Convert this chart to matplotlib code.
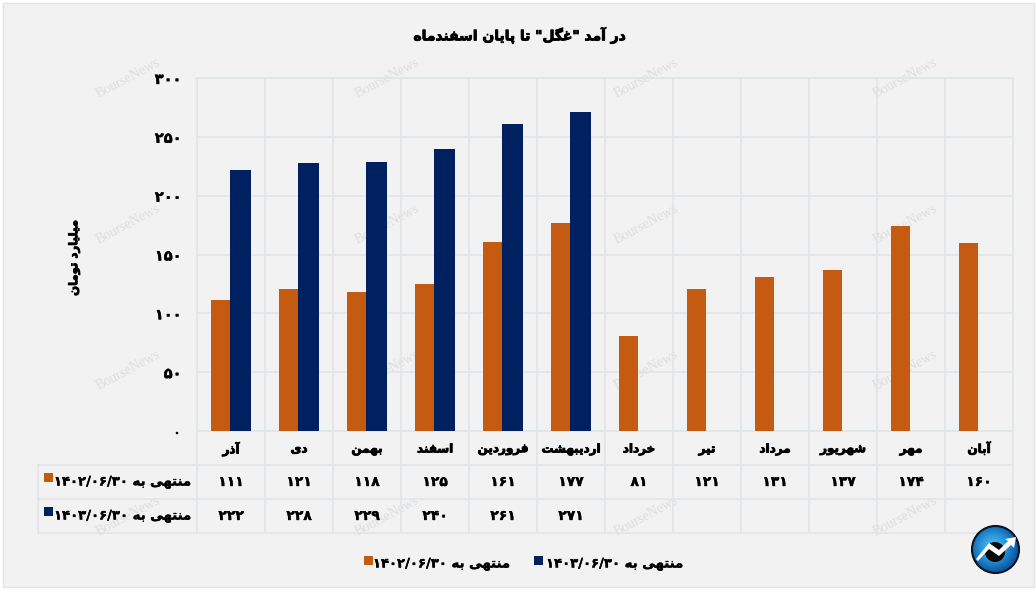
import matplotlib
matplotlib.use('Agg')
import matplotlib.pyplot as plt
import matplotlib.patheffects as pe
import numpy as np
from matplotlib.colors import LinearSegmentedColormap
from matplotlib.patches import Circle, Polygon, Rectangle

months = ['آذر', 'دی', 'بهمن', 'اسفند', 'فروردین', 'اردیبهشت',
          'خرداد', 'تیر', 'مرداد', 'شهریور', 'مهر', 'آبان']
revenue_1402 = [111, 121, 118, 125, 161, 177, 81, 121, 131, 137, 174, 160]
revenue_1403 = [222, 228, 229, 240, 261, 271]
series_names = ['منتهی به ۱۴۰۲/۰۶/۳۰', 'منتهی به ۱۴۰۳/۰۶/۳۰']
y_ticks = [0, 50, 100, 150, 200, 250, 300]
title = 'در آمد "غگل" تا پایان اسفندماه'
y_label = 'میلیارد تومان'

ORANGE = '#c55a11'
NAVY = '#002060'
BG = '#f2f2f2'
GRID = '#e0e5e8'
WATERMARK = '#dedede'

# matplotlib does no arabic shaping, so pick the presentation forms by hand
# letter: isolated, final, initial, medial
FORMS = {
    'ا': (0xFE8D, 0xFE8E), 'آ': (0xFE81, 0xFE82), 'د': (0xFEA9, 0xFEAA),
    'ذ': (0xFEAB, 0xFEAC), 'ر': (0xFEAD, 0xFEAE), 'و': (0xFEED, 0xFEEE),
    'ب': (0xFE8F, 0xFE90, 0xFE91, 0xFE92), 'پ': (0xFB56, 0xFB57, 0xFB58, 0xFB59),
    'ت': (0xFE95, 0xFE96, 0xFE97, 0xFE98), 'خ': (0xFEA5, 0xFEA6, 0xFEA7, 0xFEA8),
    'س': (0xFEB1, 0xFEB2, 0xFEB3, 0xFEB4), 'ش': (0xFEB5, 0xFEB6, 0xFEB7, 0xFEB8),
    'غ': (0xFECD, 0xFECE, 0xFECF, 0xFED0), 'ف': (0xFED1, 0xFED2, 0xFED3, 0xFED4),
    'گ': (0xFB92, 0xFB93, 0xFB94, 0xFB95), 'ل': (0xFEDD, 0xFEDE, 0xFEDF, 0xFEE0),
    'م': (0xFEE1, 0xFEE2, 0xFEE3, 0xFEE4), 'ن': (0xFEE5, 0xFEE6, 0xFEE7, 0xFEE8),
    'ه': (0xFEE9, 0xFEEA, 0xFEEB, 0xFEEC), 'ی': (0xFBFC, 0xFBFD, 0xFBFE, 0xFBFF),
}


def shape_word(word):
    out = []
    for i, ch in enumerate(word):
        if ch not in FORMS:
            out.append(ch)
            continue
        prev = word[i - 1] if i > 0 else ''
        nxt = word[i + 1] if i < len(word) - 1 else ''
        forms = FORMS[ch]
        join_prev = prev in FORMS and len(FORMS[prev]) == 4
        join_next = len(forms) == 4 and nxt in FORMS
        if join_prev and join_next:
            out.append(chr(forms[3]))
        elif join_prev:
            out.append(chr(forms[1]))
        elif join_next:
            out.append(chr(forms[2]))
        else:
            out.append(chr(forms[0]))
    return ''.join(out[::-1])


def rtl(text):
    words = []
    for w in text.split(' '):
        words.append(shape_word(w) if any(c in FORMS for c in w) else w)
    return ' '.join(words[::-1])


def fa_num(n):
    return str(n).translate(str.maketrans('0123456789', '۰۱۲۳۴۵۶۷۸۹'))


plt.rcParams['font.family'] = ['DejaVu Sans']
plt.rcParams['font.weight'] = 'bold'

# the original font is much heavier than DejaVu Bold
heavy = [pe.withStroke(linewidth=0.6, foreground='black')]
heavy_num = [pe.withStroke(linewidth=0.25, foreground='black')]

fig = plt.figure(figsize=(10.36, 5.91), dpi=100, facecolor='white')

# overlay in pixel coords for the frame, table, legend and logo
px = fig.add_axes([0, 0, 1, 1], zorder=0)
px.add_patch(Rectangle((3, 3), 1031, 584, fc=BG, ec='#e4e4e4', lw=1))

for wx in [128, 387, 646, 905]:
    for wy in [78, 224, 370, 516]:
        px.text(wx, wy, 'BourseNews', family='Liberation Serif', fontsize=10, weight='normal',
                color=WATERMARK, rotation=28, ha='center', va='center', zorder=1)

ax = fig.add_axes([197 / 1036, 1 - 431 / 591, 816 / 1036, 353 / 591], zorder=2)
ax.patch.set_alpha(0)
x = np.arange(len(months))
ax.bar(x - 0.01, revenue_1402, -0.28, align='edge', color=ORANGE, zorder=3)
ax.bar(x[:len(revenue_1403)] - 0.01, revenue_1403, 0.31, align='edge', color=NAVY, zorder=3)
ax.set_xlim(-0.5, len(months) - 0.5)
ax.set_ylim(0, 300)
ax.set_yticks(y_ticks)
ax.set_yticklabels([fa_num(v) for v in y_ticks], fontsize=10.5, path_effects=heavy_num)
ax.set_xticks(np.arange(-0.5, len(months) + 0.5))
ax.set_xticklabels([])
ax.grid(True, color=GRID, lw=1.2, zorder=0)
ax.tick_params(length=0, pad=11)
for s in ax.spines.values():
    s.set_color(GRID)
    s.set_linewidth(1.2)

px.text(520, 35, rtl(title), fontsize=10, ha='center', va='center', path_effects=heavy)
px.text(74, 258, rtl(y_label), fontsize=8.4, rotation=90, ha='center', va='center', path_effects=heavy)

# table under the axis
col_w = 68
left = 197
rows_y = [431, 465, 499, 533]
for yy in rows_y[1:]:
    px.plot([38, 1013], [yy, yy], color=GRID, lw=1.2, zorder=2)
px.plot([38, 38], [465, 533], color=GRID, lw=1.2, zorder=2)
for i in range(len(months) + 1):
    px.plot([left + i * col_w] * 2, [431, 533], color=GRID, lw=1.2, zorder=2)

for i, m in enumerate(months):
    cx = left + (i + 0.5) * col_w
    px.text(cx, 449, rtl(m), fontsize=8.6, ha='center', va='center', path_effects=heavy)
    px.text(cx, 482, fa_num(revenue_1402[i]), fontsize=10, ha='center', va='center', path_effects=heavy_num)
    if i < len(revenue_1403):
        px.text(cx, 516, fa_num(revenue_1403[i]), fontsize=10, ha='center', va='center', path_effects=heavy_num)

for name, color, yy in zip(series_names, [ORANGE, NAVY], [482, 516]):
    px.add_patch(Rectangle((44, yy - 9), 9, 9, fc=color, ec='none', zorder=3))
    px.text(192, yy, rtl(name), fontsize=9.5, ha='right', va='center', path_effects=heavy_num)

# legend
for name, color, sx, tx in zip(series_names, [ORANGE, NAVY], [364, 534], [511, 684]):
    px.add_patch(Rectangle((sx, 556), 9, 9, fc=color, ec='none', zorder=3))
    px.text(tx, 564, rtl(name), fontsize=9.5, ha='right', va='center', path_effects=heavy_num)

# logo
gx, gy = np.meshgrid(np.linspace(-1, 1, 80), np.linspace(-1, 1, 80))
radial = np.clip(np.hypot(gx + 0.1, gy + 0.1), 0, 1)
cmap = LinearSegmentedColormap.from_list('logo', ['#5cc0f2', '#2a97dc', '#0a5aa5'])
im = px.imshow(radial, extent=(971, 1020, 574, 525), cmap=cmap, origin='upper', zorder=4, aspect='auto')
im.set_clip_path(Circle((995.5, 549.5), 24, transform=px.transData))
px.add_patch(Circle((995.5, 549.5), 23.5, fc='none', ec='#0b1520', lw=1.5, zorder=6))
px.add_patch(Circle((995, 552), 10, fc='#0a0a0a', ec='none', zorder=5))
px.add_patch(Polygon([(976, 559), (989, 543), (999, 550), (1008, 541), (1005, 539),
                      (1016, 537), (1014, 548), (1011, 545), (999, 556), (989, 549), (978, 561)],
                     fc='white', ec='none', zorder=7))

px.set_xlim(0, 1036)
px.set_ylim(591, 0)
px.axis('off')

fig.savefig('out.png', dpi=100, facecolor='white')
